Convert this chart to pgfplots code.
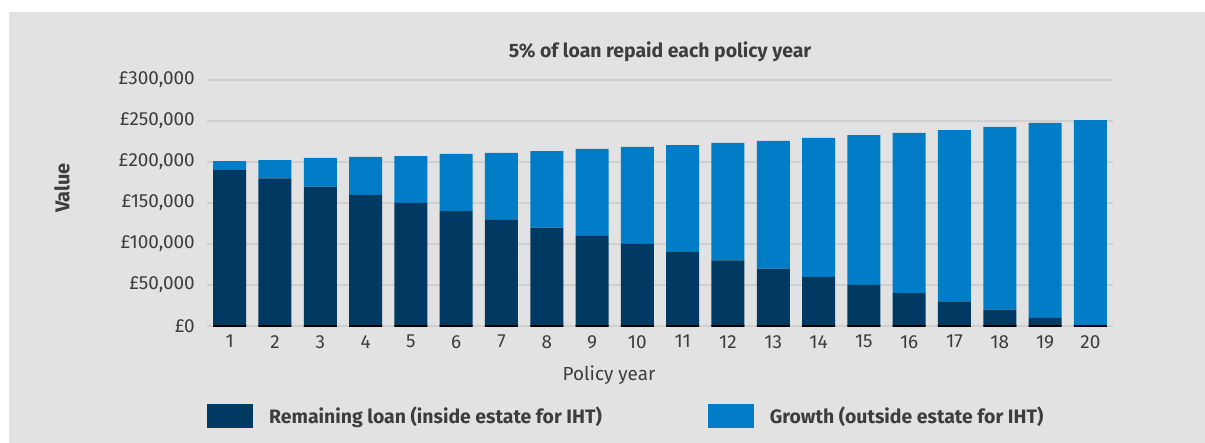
\documentclass[border=0pt]{standalone}
\usepackage{fontspec}
\setmainfont{Fira Sans}
\usepackage{pgfplots}
\pgfplotsset{compat=1.18}
\definecolor{bg}{HTML}{E2E2E2}
\definecolor{navy}{HTML}{003A63}
\definecolor{blu}{HTML}{007DC6}
\definecolor{txt}{HTML}{3D3D3D}
\definecolor{gridc}{HTML}{CFCFCF}
\begin{document}
\begin{tikzpicture}[x=1bp,y=1bp]
\fill[white] (0,0) rectangle (1205,443);
\fill[bg] (9,0) rectangle (1205,431);
\begin{axis}[
  at={(207bp,117bp)}, anchor=south west,
  scale only axis, width=906bp, height=246bp,
  xmin=0.5, xmax=20.5, ymin=0, ymax=300000,
  ybar stacked, bar width=33bp,
  clip=false, scaled y ticks=false,
  axis line style={draw=none},
  major tick length=0pt,
  ymajorgrids, grid style={gridc, line width=1.3bp},
  xtick={1,...,20},
  xticklabels={1,2,3,4,5,6,7,8,9,10,11,12,13,14,15,16,17,18,19,20},
  ytick={0,50000,100000,150000,200000,250000,300000},
  yticklabels={£0,{£50,000},{£100,000},{£150,000},{£200,000},{£250,000},{£300,000}},
  ticklabel style={font=\fontsize{19}{22}\selectfont, text=txt, inner sep=0pt},
  yticklabel style={xshift=-12bp},
  xticklabel style={yshift=-9bp},
  title={5\% of loan repaid each policy year},
  title style={font=\bfseries\fontsize{19.5}{22}\selectfont, text=txt, at={(0.5,1)}, anchor=base, yshift=17bp},
  legend columns=2,
  legend style={at={(0,-0.366)}, anchor=west, draw=none, fill=none, inner sep=0pt,
    font=\bfseries\fontsize{19.5}{22}\selectfont, text=txt,
    /tikz/every odd column/.append style={column sep=14bp},
    /tikz/every even column/.append style={column sep=104bp}},
]
\addplot[fill=navy, draw=none, legend image code/.code={\fill[navy] (0bp,-12bp) rectangle (46bp,12bp);}] coordinates {
(1,190000) (2,180000) (3,170000) (4,160000) (5,150000) (6,140000) (7,130000) (8,120000) (9,110000) (10,100000)
(11,90000) (12,80000) (13,70000) (14,60000) (15,50000) (16,40000) (17,30000) (18,20000) (19,10000) (20,0)};
\addlegendentry{Remaining loan (inside estate for IHT)}
\addplot[fill=blu, draw=none, legend image code/.code={\fill[blu] (0bp,-12bp) rectangle (46bp,12bp);}] coordinates {
(1,11200) (2,22400) (3,34900) (4,46100) (5,57300) (6,69800) (7,81000) (8,93400) (9,105900) (10,118300)
(11,130700) (12,143200) (13,155600) (14,169300) (15,182900) (16,195400) (17,209000) (18,222700) (19,237600) (20,251200)};
\addlegendentry{Growth (outside estate for IHT)}
\end{axis}
% black baseline segments under each bar
\begin{axis}[
  at={(207bp,117bp)}, anchor=south west,
  scale only axis, width=906bp, height=246bp,
  xmin=0.5, xmax=20.5, ymin=0, ymax=300000,
  ybar, bar width=33bp, bar shift=0pt,
  clip=false, hide axis,
]
\addplot[fill=black, draw=none] coordinates {
(1,1200) (2,1200) (3,1200) (4,1200) (5,1200) (6,1200) (7,1200) (8,1200) (9,1200) (10,1200)
(11,1200) (12,1200) (13,1200) (14,1200) (15,1200) (16,1200) (17,1200) (18,1200) (19,1200) (20,1200)};
\addplot[fill=black, draw=none] coordinates {
(1,-1200) (2,-1200) (3,-1200) (4,-1200) (5,-1200) (6,-1200) (7,-1200) (8,-1200) (9,-1200) (10,-1200)
(11,-1200) (12,-1200) (13,-1200) (14,-1200) (15,-1200) (16,-1200) (17,-1200) (18,-1200) (19,-1200) (20,-1200)};
\end{axis}
\node[font=\fontsize{19}{22}\selectfont, text=txt] at (609,68) {Policy year};
\node[font=\bfseries\fontsize{20}{22}\selectfont, text=txt, rotate=90] at (62,255) {Value};
\end{tikzpicture}
\end{document}
